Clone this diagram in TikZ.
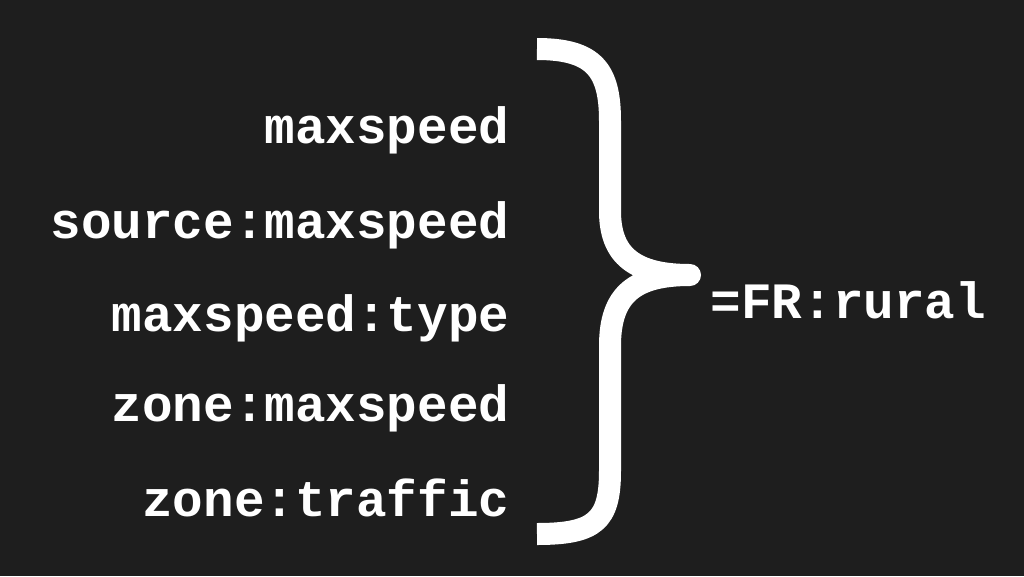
\documentclass[tikz,border=0pt]{standalone}
\usepackage{fontspec}
\setmonofont{Liberation Mono}
\definecolor{bgdark}{HTML}{1E1E1E}
\tikzset{
  keytext/.style={font=\ttfamily\bfseries\fontsize{14.5}{16}\selectfont, text=white, anchor=east, inner sep=0pt},
  valtext/.style={font=\ttfamily\bfseries\fontsize{14.5}{16}\selectfont, text=white, anchor=west, inner sep=0pt}
}
\begin{document}
\begin{tikzpicture}
    % Background
    \fill[bgdark] (0,0) rectangle (10.24,5.76);
    \useasboundingbox (0,0) rectangle (10.24,5.76);

    % Keys
    \foreach \y/\key [count=\i] in {4.46/maxspeed, 3.51/source:maxspeed, 2.58/maxspeed:type, 1.68/zone:maxspeed, 0.78/zone:traffic} {
        \node[keytext] (key\i) at (5.10,\y) {\key};
    }

    % Brace
    \draw[white, line width=0.22cm, line join=round]
        (5.37,5.27) .. controls (5.95,5.27) and (6.10,5.05) .. (6.10,4.55)
        -- (6.10,3.65) .. controls (6.10,3.20) and (6.35,3.01) .. (6.90,3.01)
        .. controls (6.35,3.01) and (6.10,2.82) .. (6.10,2.30)
        -- (6.10,1.05) .. controls (6.10,0.55) and (5.95,0.42) .. (5.37,0.42);

    % Value
    \node[valtext] (val) at (7.10,2.76) {=FR:rural};
\end{tikzpicture}
\end{document}
